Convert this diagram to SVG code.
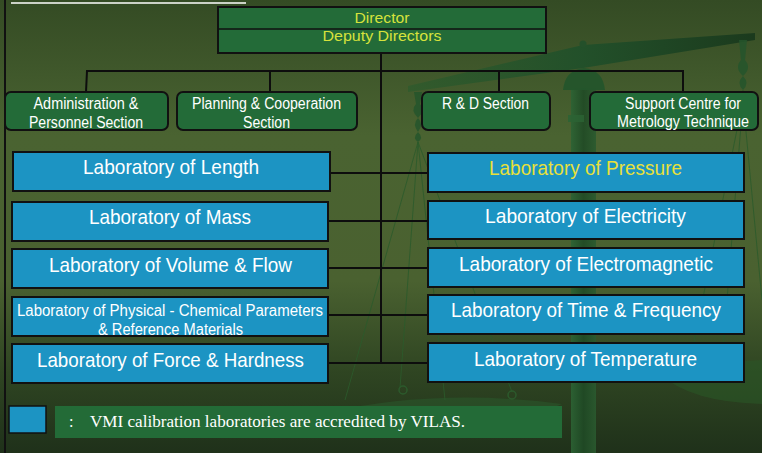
<svg xmlns="http://www.w3.org/2000/svg" width="762" height="453" viewBox="0 0 762 453">
  <defs>
    <linearGradient id="bg" x1="0" y1="0" x2="0" y2="1">
      <stop offset="0" stop-color="#344b24"/>
      <stop offset="0.3" stop-color="#4a6331"/>
      <stop offset="0.62" stop-color="#4a6130"/>
      <stop offset="0.82" stop-color="#2f4522"/>
      <stop offset="1" stop-color="#1f311a"/>
    </linearGradient>
    <linearGradient id="beam" x1="0" y1="0" x2="1" y2="0">
      <stop offset="0" stop-color="#2d5a2c" stop-opacity="0.75"/>
      <stop offset="0.5" stop-color="#21502a" stop-opacity="0.95"/>
      <stop offset="1" stop-color="#1b3a1d"/>
    </linearGradient>
    <linearGradient id="post" x1="0" y1="0" x2="1" y2="0">
      <stop offset="0" stop-color="#2c6334"/>
      <stop offset="0.5" stop-color="#1f4a25"/>
      <stop offset="1" stop-color="#2a5a2f"/>
    </linearGradient>
    <style>
      .lab { fill: #1c94c3; stroke: #111; stroke-width: 2; }
      .sec { fill: #236b38; stroke: #111; stroke-width: 2; }
      .labtxt { font-family: "Liberation Sans", Arial, sans-serif; font-size: 21px; fill: #ffffff; text-anchor: middle; }
      .smalltxt { font-family: "Liberation Sans", Arial, sans-serif; font-size: 16px; fill: #ffffff; text-anchor: middle; }
      .sectxt { font-family: "Liberation Sans", Arial, sans-serif; font-size: 16px; fill: #ffffff; text-anchor: middle; }
      .dirtxt { font-family: "Liberation Sans", Arial, sans-serif; font-size: 15px; fill: #d6e23c; text-anchor: middle; }
      .conn { stroke: #0d0d0d; stroke-width: 2; fill: none; }
      .string { stroke: #2c5a2c; stroke-width: 1; fill: none; opacity: 0.85; }
    </style>
  </defs>

  <!-- backdrop -->
  <rect x="0" y="0" width="762" height="453" fill="url(#bg)"/>

  <!-- balance scale silhouette behind the chart -->
  <g id="scale-backdrop">
    <!-- pans -->
    <path d="M330 412 Q440 388 562 404 Q450 452 330 432 Z" fill="#2a5a2c" opacity="0.55"/>
    <path d="M655 364 Q705 364 762 360 L762 404 Q690 402 660 374 Z" fill="#2a5627" opacity="0.6"/>
    <!-- column -->
    <rect x="571" y="88" width="25" height="365" fill="url(#post)" opacity="0.9"/>
    <rect x="568" y="115" width="16" height="7" fill="#2c6334" opacity="0.85"/>
    <path d="M563 90 Q565 70 584 68 Q603 70 605 90 Z" fill="#24552b" opacity="0.95"/>
    <!-- beam -->
    <polygon points="408,86 583,45 755,33 755,40 583,68 408,92" fill="url(#beam)"/>
    <circle cx="583" cy="44" r="3.5" fill="#24502a"/>
    <!-- left hanger -->
    <path d="M414 92 L422 92 L420 104 Q426 110 418 118 Q412 124 418 132 Q424 138 418 142 Q412 138 418 132 Q424 124 418 118 Q410 110 416 104 Z" fill="#24552b" opacity="0.85"/>
    <!-- right hanger -->
    <path d="M739 40 L747 40 L745 60 Q752 68 743 76 Q736 83 743 90 Q750 96 743 100 Q736 96 743 90 Q750 83 743 76 Q734 68 741 60 Z" fill="#24552b" opacity="0.85"/>
    <!-- strings -->
    <path class="string" d="M418 142 L345 400 M418 142 L400 388 M418 142 L512 392 M418 142 L445 400"/>
    <path class="string" d="M743 100 L690 362 M743 100 L762 300 M743 100 L722 362"/>
    <circle cx="403" cy="390" r="4" fill="none" stroke="#2c5a2c" stroke-width="1.5"/>
    <circle cx="512" cy="395" r="4" fill="none" stroke="#2c5a2c" stroke-width="1.5"/>
  </g>

  <!-- page frame and heading rule -->
  <line x1="5" y1="0" x2="5" y2="453" stroke="#111" stroke-width="2"/>
  <line x1="11" y1="3" x2="246" y2="3" stroke="#ffffff" stroke-width="1.5"/>

  <!-- connectors -->
  <g id="connectors">
    <path class="conn" d="M381 53 V363"/>
    <path class="conn" d="M86 71 H684"/>
    <path class="conn" d="M87 71 L86 92 M270 71 V92 M499 71 V92 M683 71 V92"/>
    <path class="conn" d="M330 173 H428 M328 221 H428 M328 268 H428 M328 315 H428 M328 363 H428"/>
  </g>

  <!-- management -->
  <g id="director">
    <rect x="218" y="7" width="328" height="46" class="sec"/>
    <line x1="218" y1="29" x2="546" y2="29" stroke="#111" stroke-width="1.5"/>
    <text x="382" y="23" class="dirtxt" textLength="55" lengthAdjust="spacingAndGlyphs">Director</text>
    <text x="382" y="41" class="dirtxt" font-size="16" textLength="119" lengthAdjust="spacingAndGlyphs">Deputy Directors</text>
  </g>

  <!-- sections -->
  <g id="sec-admin">
    <rect x="5" y="92" width="163" height="38" rx="6" class="sec"/>
    <text x="86" y="109" class="sectxt" textLength="105" lengthAdjust="spacingAndGlyphs">Administration &amp;</text>
    <text x="86" y="127.5" class="sectxt" textLength="114" lengthAdjust="spacingAndGlyphs">Personnel Section</text>
  </g>
  <g id="sec-planning">
    <rect x="177" y="92" width="180" height="38" rx="6" class="sec"/>
    <text x="266.5" y="109" class="sectxt" textLength="149" lengthAdjust="spacingAndGlyphs">Planning &amp; Cooperation</text>
    <text x="266.5" y="127.5" class="sectxt" textLength="47" lengthAdjust="spacingAndGlyphs">Section</text>
  </g>
  <g id="sec-rd">
    <rect x="422" y="92" width="128" height="38" rx="6" class="sec"/>
    <text x="485.5" y="109" class="sectxt" textLength="87" lengthAdjust="spacingAndGlyphs">R &amp; D Section</text>
  </g>
  <g id="sec-support">
    <rect x="590" y="92" width="168" height="38" rx="6" class="sec"/>
    <text x="683" y="109" class="sectxt" textLength="116" lengthAdjust="spacingAndGlyphs">Support Centre for</text>
    <text x="683" y="127" class="sectxt" textLength="132" lengthAdjust="spacingAndGlyphs">Metrology Technique</text>
  </g>

  <!-- laboratories, left column -->
  <g id="lab-length">
    <rect x="13" y="152" width="317" height="39" class="lab"/>
    <text x="171" y="174" class="labtxt" textLength="176" lengthAdjust="spacingAndGlyphs">Laboratory of Length</text>
  </g>
  <g id="lab-mass">
    <rect x="12" y="202" width="316" height="39" class="lab"/>
    <text x="170" y="224" class="labtxt" textLength="162" lengthAdjust="spacingAndGlyphs">Laboratory of Mass</text>
  </g>
  <g id="lab-volume">
    <rect x="12" y="249" width="316" height="39" class="lab"/>
    <text x="170.5" y="272" class="labtxt" textLength="243" lengthAdjust="spacingAndGlyphs">Laboratory of Volume &amp; Flow</text>
  </g>
  <g id="lab-physchem">
    <rect x="12" y="297" width="316" height="39" class="lab"/>
    <text x="170" y="316" class="smalltxt" textLength="306" lengthAdjust="spacingAndGlyphs">Laboratory of Physical - Chemical Parameters</text>
    <text x="170.5" y="335" class="smalltxt" textLength="145" lengthAdjust="spacingAndGlyphs">&amp; Reference Materials</text>
  </g>
  <g id="lab-force">
    <rect x="12" y="344" width="316" height="39" class="lab"/>
    <text x="170.5" y="367" class="labtxt" textLength="267" lengthAdjust="spacingAndGlyphs">Laboratory of Force &amp; Hardness</text>
  </g>

  <!-- laboratories, right column -->
  <g id="lab-pressure">
    <rect x="428" y="153" width="316" height="39" class="lab"/>
    <text x="585.5" y="175" class="labtxt" style="fill:#e8e03a" textLength="193" lengthAdjust="spacingAndGlyphs">Laboratory of Pressure</text>
  </g>
  <g id="lab-electricity">
    <rect x="428" y="201" width="316" height="38" class="lab"/>
    <text x="585.5" y="223" class="labtxt" textLength="201" lengthAdjust="spacingAndGlyphs">Laboratory of Electricity</text>
  </g>
  <g id="lab-electromagnetic">
    <rect x="428" y="248" width="316" height="39" class="lab"/>
    <text x="586" y="271" class="labtxt" textLength="254" lengthAdjust="spacingAndGlyphs">Laboratory of Electromagnetic</text>
  </g>
  <g id="lab-time">
    <rect x="428" y="295" width="316" height="39" class="lab"/>
    <text x="586" y="317" class="labtxt" textLength="270" lengthAdjust="spacingAndGlyphs">Laboratory of Time &amp; Frequency</text>
  </g>
  <g id="lab-temperature">
    <rect x="428" y="343" width="316" height="39" class="lab"/>
    <text x="585.5" y="366" class="labtxt" textLength="223" lengthAdjust="spacingAndGlyphs">Laboratory of Temperature</text>
  </g>

  <!-- legend -->
  <g id="legend">
    <rect x="9" y="406" width="37" height="27" fill="#1c94c3" stroke="#111" stroke-width="1.5"/>
    <rect x="55" y="406" width="507" height="32" fill="#236b37"/>
    <text x="69" y="427" font-family="Liberation Serif, 'Times New Roman', serif" font-size="16" fill="#ffffff">:</text>
    <text x="90" y="427" font-family="Liberation Serif, 'Times New Roman', serif" font-size="16" fill="#ffffff" textLength="375" lengthAdjust="spacingAndGlyphs">VMI calibration laboratories are accredited by VILAS.</text>
  </g>
</svg>
